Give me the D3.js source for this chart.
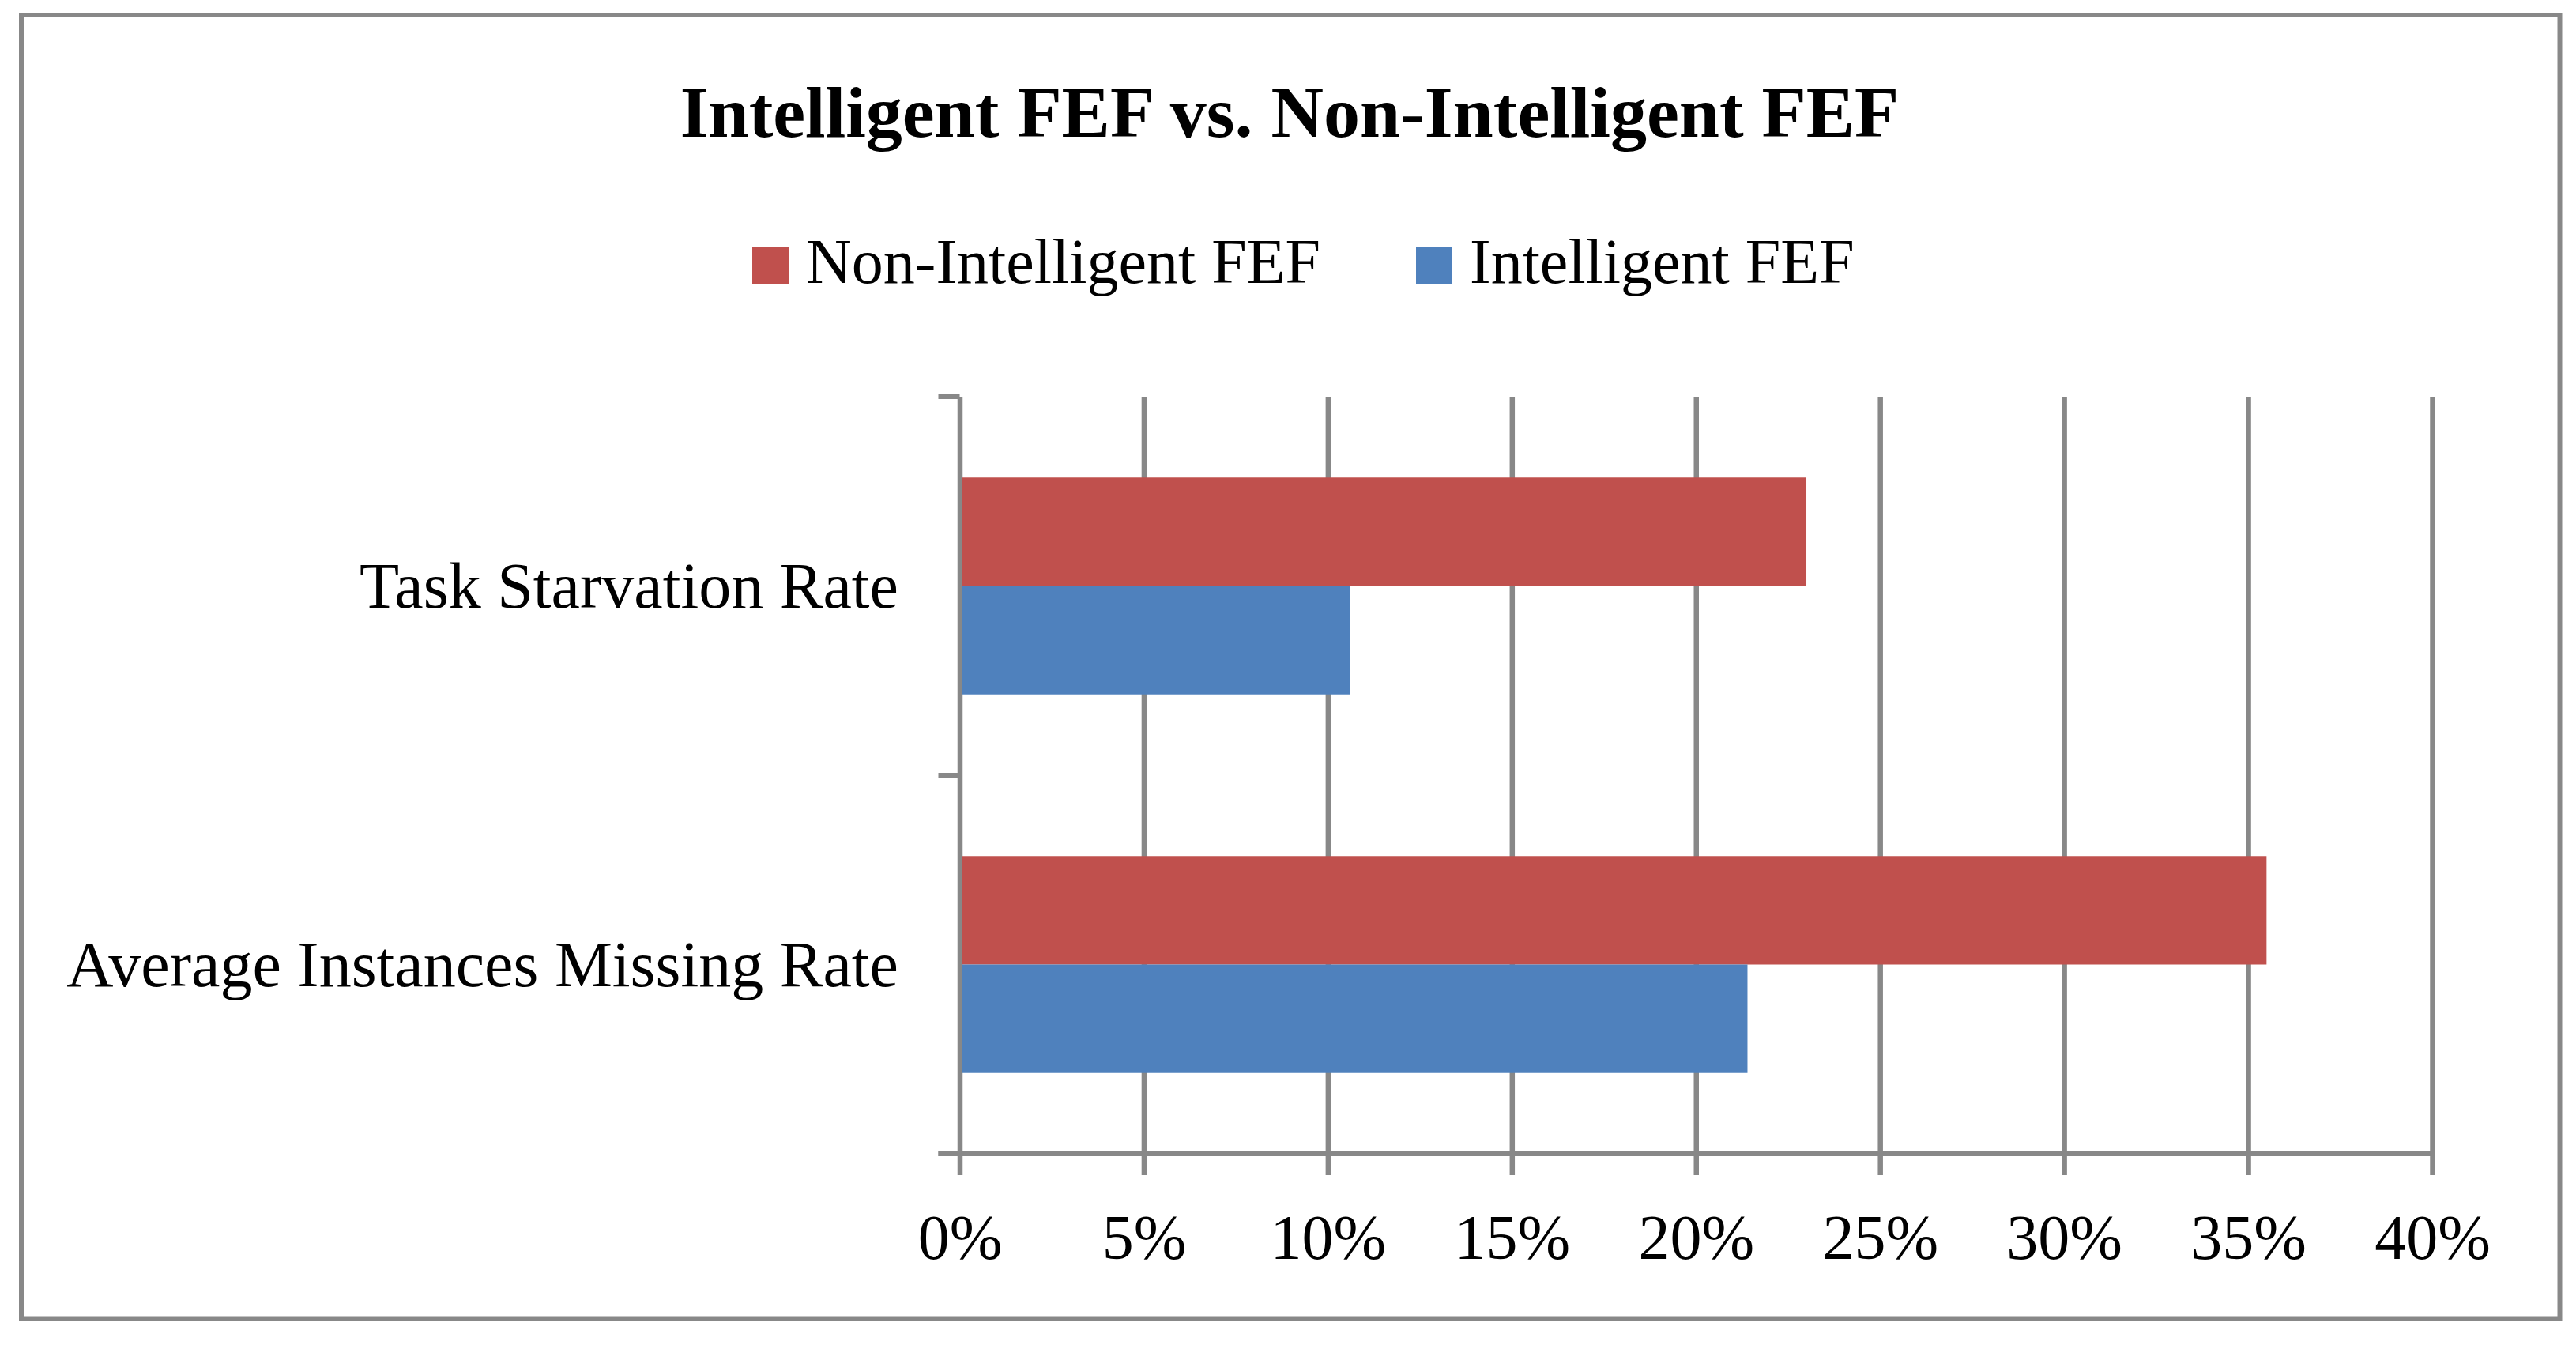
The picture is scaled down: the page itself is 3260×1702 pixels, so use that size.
<!DOCTYPE html>
<html>
<head>
<meta charset="utf-8">
<script src="https://cdn.jsdelivr.net/npm/d3@7"></script>
<style>
  html, body { margin: 0; padding: 0; background: #fff; }
  text { font-family: "Liberation Serif", "Times New Roman", serif; fill: #000; }
</style>
</head>
<body>
<div id="chart"></div>
<script>
// data
const categories = ["Task Starvation Rate", "Average Instances Missing Rate"];
const seriesNames = ["Non-Intelligent FEF", "Intelligent FEF"];
const nonIntelligent = [0.23, 0.355];
const intelligent = [0.106, 0.214];
const xTicks = [0, 0.05, 0.10, 0.15, 0.20, 0.25, 0.30, 0.35, 0.40];
const colors = ["#C0504D", "#4F81BD"];

const width = 3260, height = 1702;
const plot = { left: 1214.5, right: 3078, top: 502, bottom: 1460 };
const gray = "#888888";

const svg = d3.select("#chart").append("svg")
    .attr("width", width)
    .attr("height", height);

svg.append("rect").attr("width", width).attr("height", height).attr("fill", "#fff");

// outer frame
svg.append("rect")
    .attr("x", 27).attr("y", 19)
    .attr("width", 3239.5 - 27).attr("height", 1668.5 - 19)
    .attr("fill", "none")
    .attr("stroke", gray)
    .attr("stroke-width", 6);

// title
svg.append("text")
    .attr("x", 1632).attr("y", 173)
    .attr("text-anchor", "middle")
    .style("font-size", "92px")
    .style("font-weight", "bold")
    .text("Intelligent FEF vs. Non-Intelligent FEF");

// legend
const legendX = [952, 1792];
const legend = svg.append("g").selectAll("g")
    .data(seriesNames)
    .join("g")
    .attr("transform", (d, i) => `translate(${legendX[i]},0)`);
legend.append("rect")
    .attr("x", 0).attr("y", 313)
    .attr("width", 46).attr("height", 46)
    .attr("fill", (d, i) => colors[i]);
legend.append("text")
    .attr("x", 68).attr("y", 358)
    .style("font-size", "80px")
    .text(d => d);

// scales
const x = d3.scaleLinear().domain([0, 0.4]).range([plot.left, plot.right]);
const y0 = d3.scaleBand()
    .domain(categories)
    .range([plot.top, plot.bottom])
    .paddingInner(0.427)
    .paddingOuter(0.2135);
const y1 = d3.scaleBand().domain(seriesNames).range([0, y0.bandwidth()]);

// gridlines + tick marks below axis (one axis call)
const tickLen = 27;
const gx = svg.append("g")
    .attr("transform", `translate(0,${plot.top})`)
    .call(d3.axisBottom(x)
        .tickValues(xTicks)
        .tickSize(plot.bottom - plot.top + tickLen)
        .tickFormat(d3.format(".0%")));
gx.select(".domain").remove();
gx.selectAll(".tick line")
    .attr("stroke", gray)
    .attr("stroke-width", 6.5);
gx.selectAll(".tick text")
    .attr("y", 1593 - plot.top)
    .attr("dy", 0)
    .style("font-size", "80px")
    .style("font-family", "'Liberation Serif', serif")
    .attr("fill", "#000");

// bars
const groups = svg.append("g").selectAll("g")
    .data(categories)
    .join("g")
    .attr("transform", d => `translate(0,${y0(d)})`);
groups.selectAll("rect")
    .data((d, i) => [
        { s: seriesNames[0], v: nonIntelligent[i], c: colors[0] },
        { s: seriesNames[1], v: intelligent[i], c: colors[1] }
    ])
    .join("rect")
    .attr("x", x(0) + 3)
    .attr("y", d => y1(d.s))
    .attr("width", d => x(d.v) - x(0) - 3)
    .attr("height", y1.bandwidth())
    .attr("fill", d => d.c);

// category axis: baseline line and boundary ticks
const bounds = categories.map(c => y0(c) - y0.step() * y0.paddingOuter())
    .concat([plot.bottom]);
svg.append("g").selectAll("line")
    .data(bounds)
    .join("line")
    .attr("x1", plot.left - tickLen).attr("x2", plot.left)
    .attr("y1", d => d).attr("y2", d => d)
    .attr("stroke", gray).attr("stroke-width", 6);
svg.append("line")
    .attr("x1", plot.left - tickLen).attr("x2", plot.right + 3)
    .attr("y1", plot.bottom).attr("y2", plot.bottom)
    .attr("stroke", gray).attr("stroke-width", 6);

// category labels
svg.append("g").selectAll("text")
    .data(categories)
    .join("text")
    .attr("x", 1137)
    .attr("y", d => y0(d) + y0.bandwidth() / 2 + 27)
    .attr("text-anchor", "end")
    .style("font-size", "82px")
    .text(d => d);
</script>
</body>
</html>
